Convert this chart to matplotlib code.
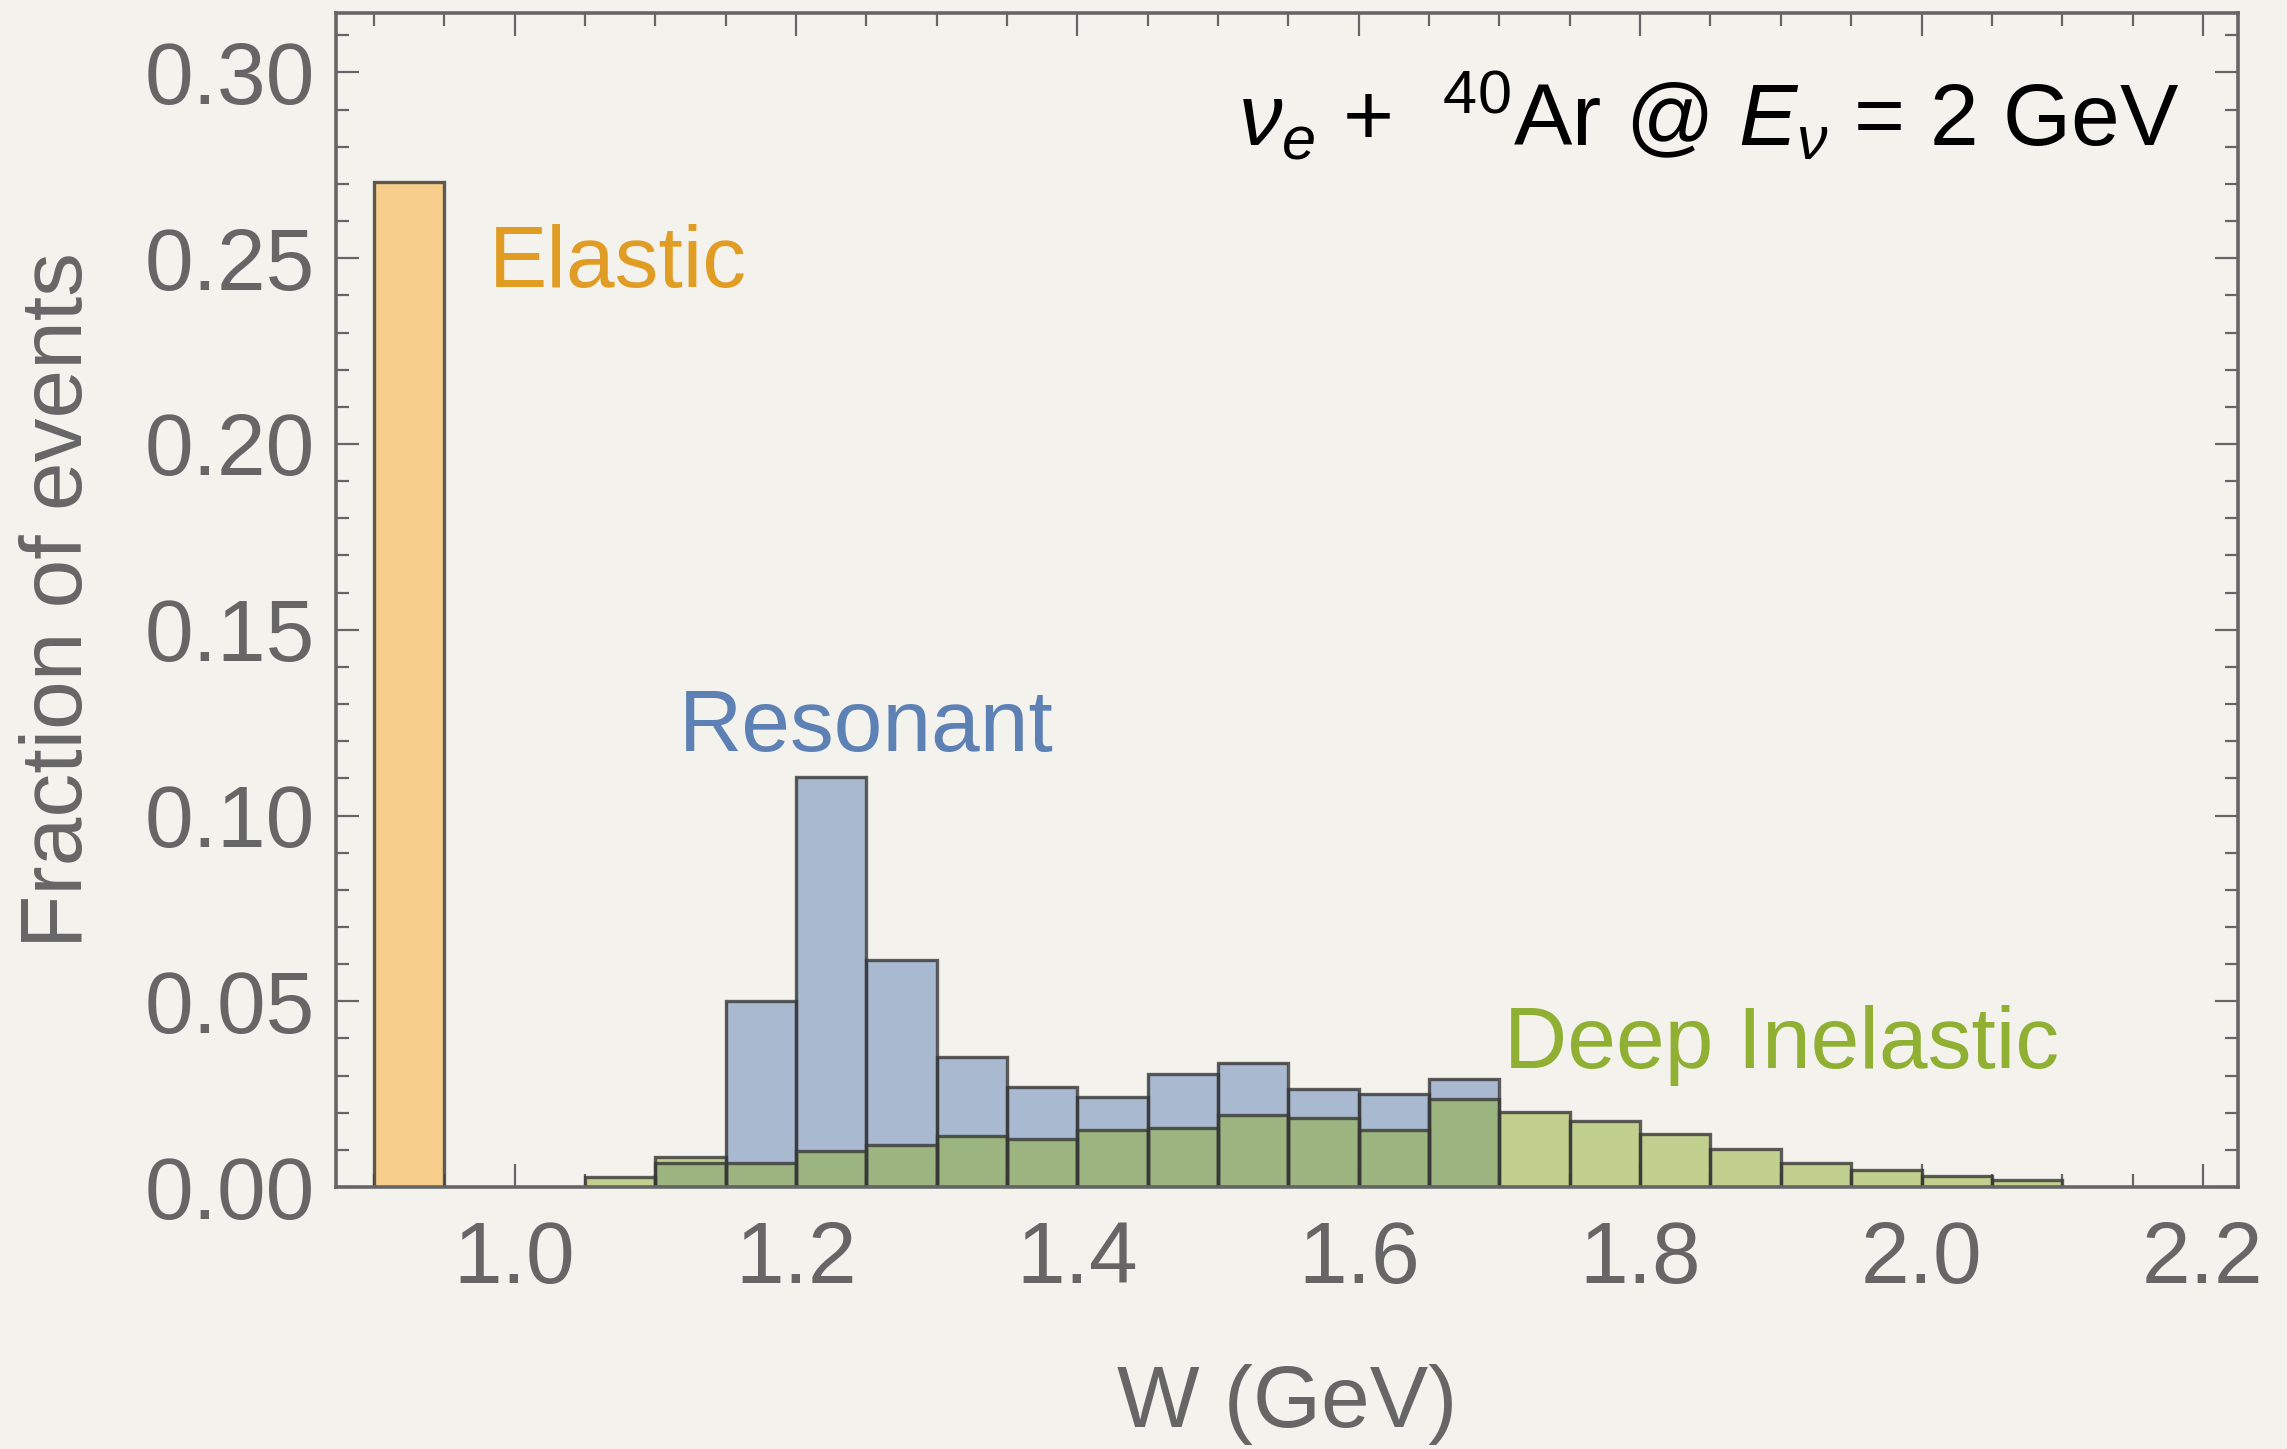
import numpy as np
import matplotlib.pyplot as plt
from matplotlib.ticker import MultipleLocator

# W bins (GeV) and fraction of events
elastic_edges = [0.90, 0.95]
elastic_frac = [0.2706]

res_edges = [1.10, 1.15, 1.20, 1.25, 1.30, 1.35, 1.40, 1.45, 1.50, 1.55, 1.60, 1.65, 1.70]
res_frac = [0.0065, 0.0502, 0.1103, 0.0612, 0.0350, 0.0268, 0.0241, 0.0305,
            0.0334, 0.0264, 0.0251, 0.0291]

dis_edges = [1.05, 1.10, 1.15, 1.20, 1.25, 1.30, 1.35, 1.40, 1.45, 1.50, 1.55,
             1.60, 1.65, 1.70, 1.75, 1.80, 1.85, 1.90, 1.95, 2.00, 2.05, 2.10]
dis_frac = [0.0026, 0.0081, 0.0066, 0.0096, 0.0113, 0.0136, 0.0129, 0.0154,
            0.0159, 0.0195, 0.0186, 0.0154, 0.0238, 0.0201, 0.0178, 0.0143,
            0.0101, 0.0065, 0.0045, 0.0029, 0.0020]

x_ticks = [1.0, 1.2, 1.4, 1.6, 1.8, 2.0, 2.2]
y_ticks = [0.00, 0.05, 0.10, 0.15, 0.20, 0.25, 0.30]

bg = "#F4F2ED"
gray = "#666666"
c_orange = "#E19C24"
c_blue = "#5E81B5"
c_green = "#8FB032"
edge = (0.22, 0.22, 0.22, 0.8)

plt.rcParams["font.family"] = ["Liberation Sans", "DejaVu Sans"]
plt.rcParams["mathtext.fontset"] = "custom"
plt.rcParams["mathtext.rm"] = "Liberation Sans"
plt.rcParams["mathtext.it"] = "Liberation Sans:italic"

fig = plt.figure(figsize=(22.87, 14.49), dpi=100)
fig.patch.set_facecolor(bg)
ax = fig.add_axes([0.1469, 0.1808, 0.9786 - 0.1469, 0.991 - 0.1808])
ax.set_facecolor(bg)


def draw_hist(edges, frac, face, alpha):
    edges = np.asarray(edges)
    ax.bar(edges[:-1], frac, width=np.diff(edges), align="edge",
           color=face, alpha=alpha, edgecolor="none", zorder=2)
    ax.bar(edges[:-1], frac, width=np.diff(edges), align="edge",
           facecolor="none", edgecolor=edge, linewidth=2.4, zorder=3)


draw_hist(elastic_edges, elastic_frac, "#F7CD8B", 1.0)
draw_hist(res_edges, res_frac, c_blue, 0.5)
draw_hist(dis_edges, dis_frac, c_green, 0.5)

fs = 63
ax.text(0.9815, 0.2423, "Elastic", color=c_orange, fontsize=fs, va="baseline")
ax.text(1.117, 0.1174, "Resonant", color=c_blue, fontsize=fs, va="baseline")
ax.text(1.703, 0.032, "Deep Inelastic", color=c_green, fontsize=fs, va="baseline")
ax.text(2.183, 0.2803, r"$\nu_e$ +  $^{40}$Ar @ $E_\nu$ = 2 GeV", color="black",
        fontsize=fs, ha="right", va="baseline")

ax.set_xlim(0.873, 2.225)
ax.set_ylim(0, 0.316)
ax.set_xticks(x_ticks)
ax.set_yticks(y_ticks)
ax.set_xticklabels([f"{v:.1f}" for v in x_ticks])
ax.set_yticklabels([f"{v:.2f}" for v in y_ticks])
ax.xaxis.set_minor_locator(MultipleLocator(0.05))
ax.yaxis.set_minor_locator(MultipleLocator(0.01))

ax.tick_params(which="both", direction="in", top=True, right=True, color=gray,
               labelcolor=gray, labelsize=fs)
ax.tick_params(which="major", length=16.5, width=1.6)
ax.tick_params(which="minor", length=9.5, width=1.6)
ax.tick_params(axis="x", which="major", pad=24)
ax.tick_params(axis="y", which="major", pad=15)

for sp in ax.spines.values():
    sp.set_color(gray)
    sp.set_linewidth(2.6)
    sp.set_zorder(4)

ax.set_xlabel("W (GeV)", fontsize=fs, color=gray, labelpad=45)
ax.set_ylabel("Fraction of events", fontsize=fs, color=gray, labelpad=32)

fig.savefig("out.png", dpi=100, facecolor=bg)
